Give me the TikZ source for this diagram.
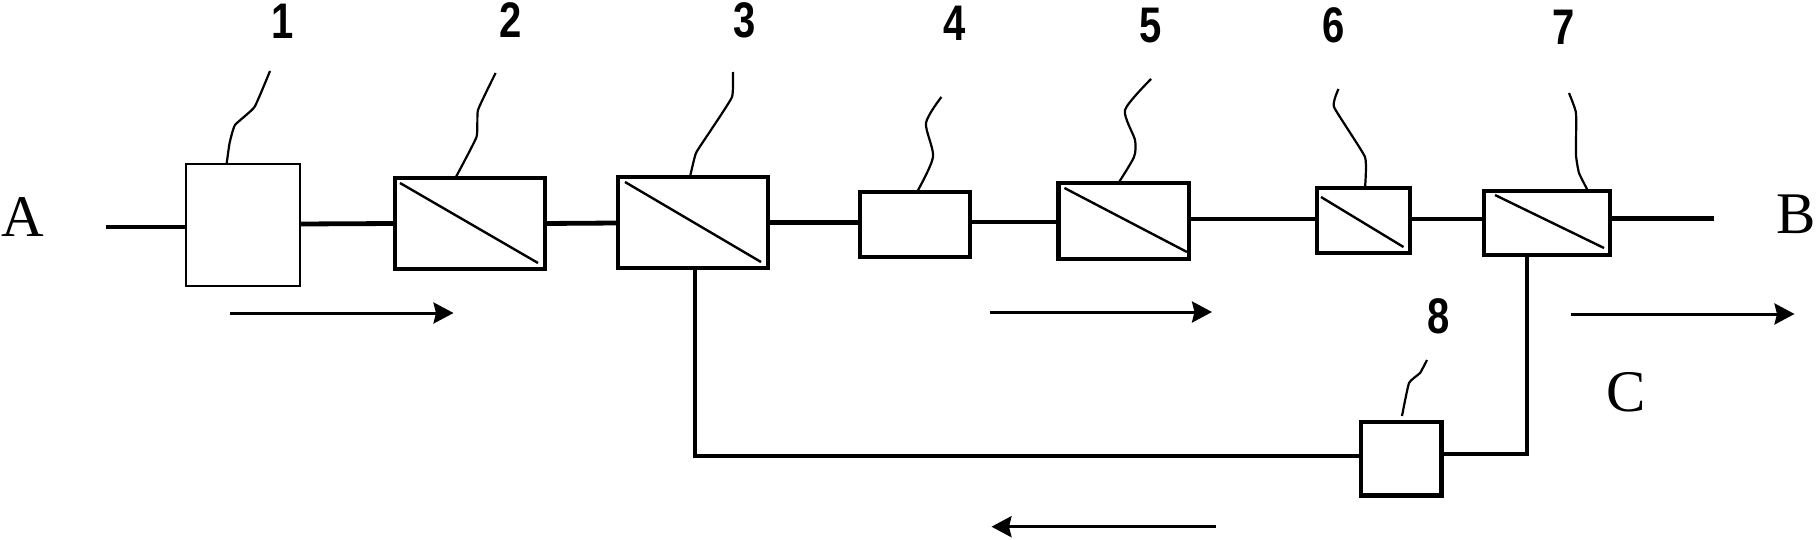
\documentclass[tikz,border=0pt]{standalone}
\usepackage{fontspec}
\setmainfont{Liberation Sans}
\newfontfamily\serifface{Liberation Serif}
\usetikzlibrary{arrows.meta}
\tikzset{
  x=1pt,y=-1pt,
  unitbox/.style={draw=black,fill=white,line width=4.5pt,inner sep=0pt,outer sep=0pt},
  thinbox/.style={unitbox,line width=2.6pt},
  pipe/.style={line width=4.8pt},
  diag/.style={line width=2.4pt},
  lead/.style={line width=2.2pt},
  flow/.style={line width=3pt,-{Stealth[length=20pt,width=21pt,inset=2.5pt]}},
  num/.style={inner sep=0pt,font=\bfseries\fontsize{50}{50}\selectfont},
  letter/.style={inner sep=0pt,font=\serifface\fontsize{59}{59}\selectfont}
}
\newcommand{\dg}[1]{\scalebox{.8}[1]{#1}}
\begin{document}
\begin{tikzpicture}
\useasboundingbox[fill=white] (0,0) rectangle (1816,540);

\node[thinbox,minimum width=114pt,minimum height=122pt] (b1) at (243,225) {};
\node[unitbox,minimum width=150pt,minimum height=91pt] (b2) at (470,223.5) {};
\node[unitbox,minimum width=150pt,minimum height=91pt] (b3) at (693,222.5) {};
\node[unitbox,minimum width=110pt,minimum height=65pt] (b4) at (915,224.5) {};
\node[unitbox,minimum width=130.5pt,minimum height=76pt] (b5) at (1123.7,221) {};
\node[unitbox,minimum width=93pt,minimum height=65pt] (b6) at (1363.5,220.5) {};
\node[unitbox,minimum width=126pt,minimum height=64pt] (b7) at (1547,223) {};
\node[unitbox,minimum width=80.5pt,minimum height=73.5pt] (b8) at (1401,458.5) {};

\node[num] (n1) at (283,21) {\dg{1}};
\node[num] (n2) at (511,20) {\dg{2}};
\node[num] (n3) at (745,20) {\dg{3}};
\node[num] (n4) at (955,23) {\dg{4}};
\node[num] (n5) at (1151,26) {\dg{5}};
\node[num] (n6) at (1334,25) {\dg{6}};
\node[num] (n7) at (1563.5,27) {\dg{7}};
\node[num] (n8) at (1439,316) {\dg{8}};
\node[letter] (la) at (22.5,217) {A};
\node[letter] (lb) at (1796,214) {B};
\node[letter] (lc) at (1626,392) {C};

% pipes
\coordinate (ain) at (106,227);
\coordinate (bout) at (1713.5,218.5);
\draw[pipe] (ain) -- (ain -| b1.west);
\draw[pipe] ([yshift=1pt]b1.east) -- (b2.west);
\draw[pipe] (b2.east) -- ([yshift=-.5pt]b3.west);
\draw[pipe] (b3.east) -- (b3.east -| b4.west);
\draw[pipe] ([yshift=2.5pt]b4.east) -- ([yshift=-1pt]b5.west);
\draw[pipe] ([yshift=2pt]b5.east) -- ([yshift=1.5pt]b6.west);
\draw[pipe] ([yshift=1.5pt]b6.east) -- ([yshift=4pt]b7.west);
\draw[pipe] (bout -| b7.east) -- (bout);
\draw[pipe] ([xshift=2pt]b3.south) |- ([yshift=2.5pt]b8.west);
\draw[pipe] ([yshift=4.5pt]b8.east) -| ([xshift=-20pt]b7.south);

% membrane diagonals
\draw[diag] ([shift={(5,5)}]b2.north west) -- ([shift={(-7,-6)}]b2.south east);
\draw[diag] ([shift={(7,5)}]b3.north west) -- ([shift={(-7,-6)}]b3.south east);
\draw[diag] ([shift={(6,5)}]b5.north west) -- ([shift={(-2,-7)}]b5.south east);
\draw[diag] ([shift={(4,9)}]b6.north west) -- ([shift={(-6.5,-6)}]b6.south east);
\draw[diag] ([shift={(11,4)}]b7.north west) -- ([shift={(-6,-7)}]b7.south east);

% leaders
\coordinate (t1) at ([xshift=40.6pt]b1.north west);
\coordinate (t2) at ([xshift=60.4pt]b2.north west);
\coordinate (t3) at ([xshift=72pt]b3.north west);
\coordinate (t4) at ([xshift=57pt]b4.north west);
\coordinate (t5) at ([xshift=60pt]b5.north west);
\coordinate (t6) at ([xshift=48pt]b6.north west);
\coordinate (t7) at ([xshift=104pt]b7.north west);
\coordinate (t8) at ([xshift=41pt]b8.north west);
\draw[lead] plot[smooth,tension=.25] coordinates {(270,71) (254.5,107) (235,125) (229.6,143) (t1)};
\draw[lead] plot[smooth,tension=.25] coordinates {(495.6,73) (478,110) (476.5,137) (t2)};
\draw[lead] plot[smooth,tension=.25] coordinates {(733,72) (732,97) (711,130) (696,153) (t3)};
\draw[lead] plot[smooth,tension=.45] coordinates {(941.4,97) (926,123) (933,157) (t4)};
\draw[lead] plot[smooth,tension=.4] coordinates {(1151,79) (1125,110) (1135,140) (1134,157) (t5)};
\draw[lead] plot[smooth,tension=.25] coordinates {(1338.5,89) (1334,107) (1365,157) (t6)};
\draw[lead] plot[smooth,tension=.25] coordinates {(1569,93) (1576,113) (1576,155) (1579,173) (t7)};
\draw[lead] plot[smooth,tension=.25] coordinates {(1427,360) (1420,373) (1409,383) (1402,416)};

% flow arrows
\coordinate (f1s) at (230,313);  \coordinate (f1e) at (453.5,313);
\coordinate (f2s) at (990,312);  \coordinate (f2e) at (1212,312);
\coordinate (f3s) at (1571,314); \coordinate (f3e) at (1794.5,314);
\coordinate (f4s) at (1215.5,526.7); \coordinate (f4e) at (991.5,526.7);
\draw[flow] (f1s) -- (f1e);
\draw[flow] (f2s) -- (f2e);
\draw[flow] (f3s) -- (f3e);
\draw[flow] (f4s) -- (f4e);
\end{tikzpicture}
\end{document}
